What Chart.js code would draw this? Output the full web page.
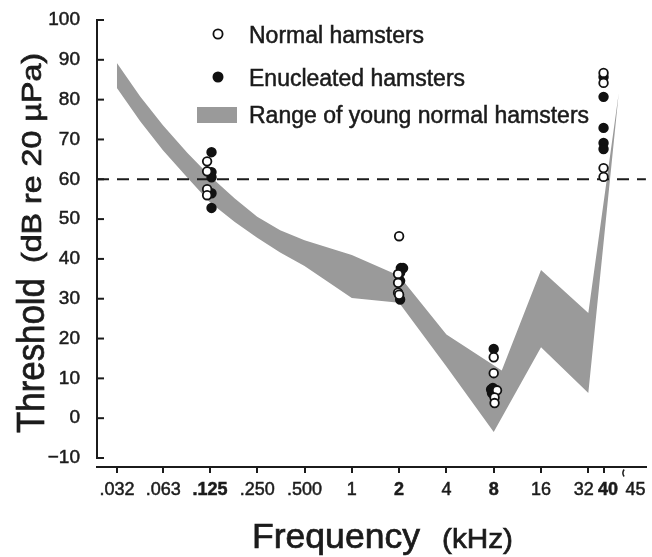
<!DOCTYPE html>
<html>
<head>
<meta charset="utf-8">
<script src="https://cdn.jsdelivr.net/npm/chart.js@4.4.0/dist/chart.umd.min.js"></script>
<style>
html, body { margin: 0; padding: 0; background: #fff; }
canvas { display: block; }
</style>
</head>
<body>
<canvas id="myChart" width="652" height="557"></canvas>
<script>
// axis ticks (kHz on a log axis; "45" sits after the axis break)
var xTickVals = [0.032, 0.063, 0.125, 0.25, 0.5, 1, 2, 4, 8, 16, 32, 40, 64];
var xTickLabels = ['.032', '.063', '.125', '.250', '.500', '1', '2', '4', '8', '16', '32', '40', '45'];
var xBoldLabels = ['.125', '2', '8', '40'];
var xNoTickMark = ['45'];
var yTickVals = [-10, 0, 10, 20, 30, 40, 50, 60, 70, 80, 90, 100];

// Normal hamsters (open circles)
var normalFreq = [0.12, 0.12, 0.12, 0.12,
                  2.0, 1.97, 1.97, 1.97, 2.0,
                  8.0, 8.0, 8.4, 8.1, 8.1,
                  40, 40, 40, 40];
var normalThr  = [64.5, 62, 57.5, 56,
                  45.7, 36.2, 34, 31.5, 31,
                  15.3, 11.3, 7, 5.2, 3.8,
                  86.7, 84.2, 62.8, 60.6];

// Enucleated hamsters (filled circles)
var enucFreq = [0.128, 0.128, 0.128, 0.128, 0.128,
                2.05, 2.12, 2.03, 2.03, 2.03,
                8.0, 7.9, 7.7, 7.8,
                40, 40, 40, 40, 40];
var enucThr  = [66.8, 61.8, 60.5, 56.5, 52.8,
                37.7, 37.7, 36.5, 34.5, 29.8,
                17.4, 7.6, 7.2, 6.3,
                85.7, 80.7, 72.9, 69.1, 67.6];

// Range of young normal hamsters (upper and lower edge of the band)
var rangeUpperFreq = [0.032, 0.045, 0.063, 0.09, 0.125, 0.18, 0.25, 0.35, 0.5, 1, 2, 4, 9, 16, 32, 50];
var rangeUpperThr  = [89.2, 80.8, 73.5, 66.6, 60.8, 55.2, 50.6, 47.2, 44.7, 41, 35.8, 21, 12, 37.2, 26.4, 81.7];
var rangeLowerFreq = [0.032, 0.045, 0.063, 0.09, 0.125, 0.18, 0.25, 0.35, 0.5, 1, 2, 4, 8, 16, 32, 50];
var rangeLowerThr  = [82.9, 74.6, 67.2, 60.4, 54.2, 49.3, 45.3, 41.6, 38.2, 30.2, 29, 13, -3.5, 17.8, 6.3, 81.7];

var refLevel = 60;
var xMin = 0.0239, xMax = 74.4;

var FONT = '"Liberation Sans", Arial, Helvetica, sans-serif';
var INK = '#1b1b1b';
var BAND = '#9a9a9a';

function pts(xs, ys) {
    return xs.map(function (x, i) { return {x: x, y: ys[i]}; });
}

// draw text stretched/squeezed to a measured length
function fitText(ctx, text, x, y, font, len, rotated) {
    ctx.save();
    ctx.font = font;
    ctx.translate(x, y);
    if (rotated) ctx.rotate(-Math.PI / 2);
    var w = ctx.measureText(text).width;
    ctx.scale(len / w, 1);
    ctx.textAlign = 'left';
    ctx.textBaseline = 'alphabetic';
    ctx.fillStyle = INK;
    ctx.strokeStyle = INK;
    ctx.lineWidth = 0.7;
    ctx.fillText(text, 0, 0);
    ctx.strokeText(text, 0, 0);
    ctx.restore();
}

var decor = {
    id: 'decor',
    afterDraw: function (chart) {
        var ctx = chart.ctx;
        var ys = chart.scales.y;
        var left = chart.chartArea.left;
        var bottom = chart.chartArea.bottom;

        ctx.save();
        ctx.strokeStyle = INK;
        ctx.lineWidth = 2;
        // y axis line, stops at -10
        ctx.beginPath();
        ctx.moveTo(left, ys.getPixelForValue(yTickVals[0]) + 1);
        ctx.lineTo(left, ys.getPixelForValue(yTickVals[yTickVals.length - 1]) - 1);
        ctx.stroke();
        // inward ticks
        yTickVals.forEach(function (v) {
            var py = ys.getPixelForValue(v);
            ctx.beginPath();
            ctx.moveTo(left, py);
            ctx.lineTo(left + 7, py);
            ctx.stroke();
        });
        // axis break mark
        ctx.lineWidth = 1.5;
        ctx.beginPath();
        ctx.arc(629, bottom + 6, 6, Math.PI * 0.8, Math.PI * 1.2);
        ctx.stroke();
        ctx.restore();

        // axis titles
        fitText(ctx, 'Frequency', 252, 548, '35px ' + FONT, 168, false);
        fitText(ctx, '(kHz)', 442, 548, '28px ' + FONT, 71, false);
        fitText(ctx, 'Threshold', 44, 433, '39px ' + FONT, 155, true);
        fitText(ctx, '(dB re 20 \u00b5Pa)', 41, 263, '28px ' + FONT, 210, true);

        // legend
        var ds = chart.data.datasets;
        ctx.save();
        ctx.lineWidth = 1.8;
        ctx.strokeStyle = '#111';
        ctx.fillStyle = '#fff';
        ctx.beginPath(); ctx.arc(218, 34, 4.6, 0, Math.PI * 2); ctx.fill(); ctx.stroke();
        ctx.fillStyle = '#111';
        ctx.beginPath(); ctx.arc(218, 77, 4.6, 0, Math.PI * 2); ctx.fill(); ctx.stroke();
        ctx.fillStyle = BAND;
        ctx.fillRect(197, 107, 40, 16);
        ctx.fillStyle = INK;
        ctx.strokeStyle = INK;
        ctx.lineWidth = 0.5;
        ctx.font = '23px ' + FONT;
        ctx.textBaseline = 'alphabetic';
        [[ds[0].label, 43], [ds[1].label, 86], [ds[3].label, 123]].forEach(function (it) {
            ctx.fillText(it[0], 249, it[1]);
            ctx.strokeText(it[0], 249, it[1]);
        });
        ctx.restore();
    }
};

var ctx = document.getElementById('myChart').getContext('2d');
var myChart = new Chart(ctx, {
    type: 'line',
    data: {
        datasets: [{
            label: 'Normal hamsters',
            data: pts(normalFreq, normalThr),
            showLine: false,
            pointRadius: 4.3,
            pointBorderWidth: 1.8,
            pointBackgroundColor: '#fff',
            pointBorderColor: '#111',
            order: 0
        }, {
            label: 'Enucleated hamsters',
            data: pts(enucFreq, enucThr),
            showLine: false,
            pointRadius: 4.3,
            pointBorderWidth: 1.8,
            pointBackgroundColor: '#111',
            pointBorderColor: '#111',
            order: 1
        }, {
            label: 'ref',
            data: [{x: xMin, y: refLevel}, {x: xMax, y: refLevel}],
            borderColor: INK,
            borderWidth: 2,
            borderDash: [12, 8],
            pointRadius: 0,
            fill: false,
            order: 2
        }, {
            label: 'Range of young normal hamsters',
            data: pts(rangeUpperFreq, rangeUpperThr),
            borderWidth: 0,
            borderColor: 'rgba(0,0,0,0)',
            backgroundColor: BAND,
            pointRadius: 0,
            fill: '+1',
            order: 3
        }, {
            label: 'range low',
            data: pts(rangeLowerFreq, rangeLowerThr),
            borderWidth: 0,
            borderColor: 'rgba(0,0,0,0)',
            pointRadius: 0,
            fill: false,
            order: 4
        }]
    },
    options: {
        responsive: false,
        animation: false,
        devicePixelRatio: 1,
        layout: { padding: { left: 0, right: 2, top: 20, bottom: 0 } },
        plugins: {
            legend: { display: false },
            tooltip: { enabled: false }
        },
        events: [],
        scales: {
            x: {
                type: 'logarithmic',
                min: xMin,
                max: xMax,
                afterBuildTicks: function (scale) {
                    scale.ticks = xTickVals.map(function (v) { return {value: v}; });
                },
                afterFit: function (scale) {
                    scale.height = 90;
                    scale.paddingLeft = 0;
                    scale.paddingRight = 0;
                    scale.paddingTop = 0;
                    scale.paddingBottom = 0;
                },
                border: { display: true, color: INK, width: 2 },
                grid: {
                    drawOnChartArea: false,
                    drawTicks: true,
                    tickLength: 6,
                    lineWidth: 2,
                    color: function (c) {
                        return xNoTickMark.indexOf(xTickLabels[c.index]) >= 0 ? 'rgba(0,0,0,0)' : INK;
                    }
                },
                ticks: {
                    autoSkip: false,
                    maxRotation: 0,
                    padding: 6,
                    color: INK,
                    textStrokeColor: INK,
                    textStrokeWidth: 0.5,
                    font: function (c) {
                        var bold = xBoldLabels.indexOf(xTickLabels[c.index]) >= 0;
                        return { family: FONT, size: 18, weight: bold ? 'bold' : 'normal' };
                    },
                    callback: function (v, i) {
                        var t = xTickLabels[i];
                        // the crowded labels near the break are nudged apart
                        if (t === '32') return '32\u2002';
                        if (t === '40') return '\u200240';
                        return t;
                    }
                }
            },
            y: {
                type: 'linear',
                min: -12.26,
                max: 100,
                afterBuildTicks: function (scale) {
                    scale.ticks = yTickVals.map(function (v) { return {value: v}; });
                },
                afterFit: function (scale) {
                    scale.width = 97;
                    scale.paddingTop = 0;
                    scale.paddingBottom = 0;
                },
                border: { display: false },
                grid: { display: false, drawTicks: false },
                ticks: {
                    padding: 17,
                    color: INK,
                    textStrokeColor: INK,
                    textStrokeWidth: 0.5,
                    font: { family: FONT, size: 19 },
                    callback: function (v) { return String(v).replace('-', '\u2212'); }
                }
            }
        }
    },
    plugins: [decor]
});
</script>
</body>
</html>
